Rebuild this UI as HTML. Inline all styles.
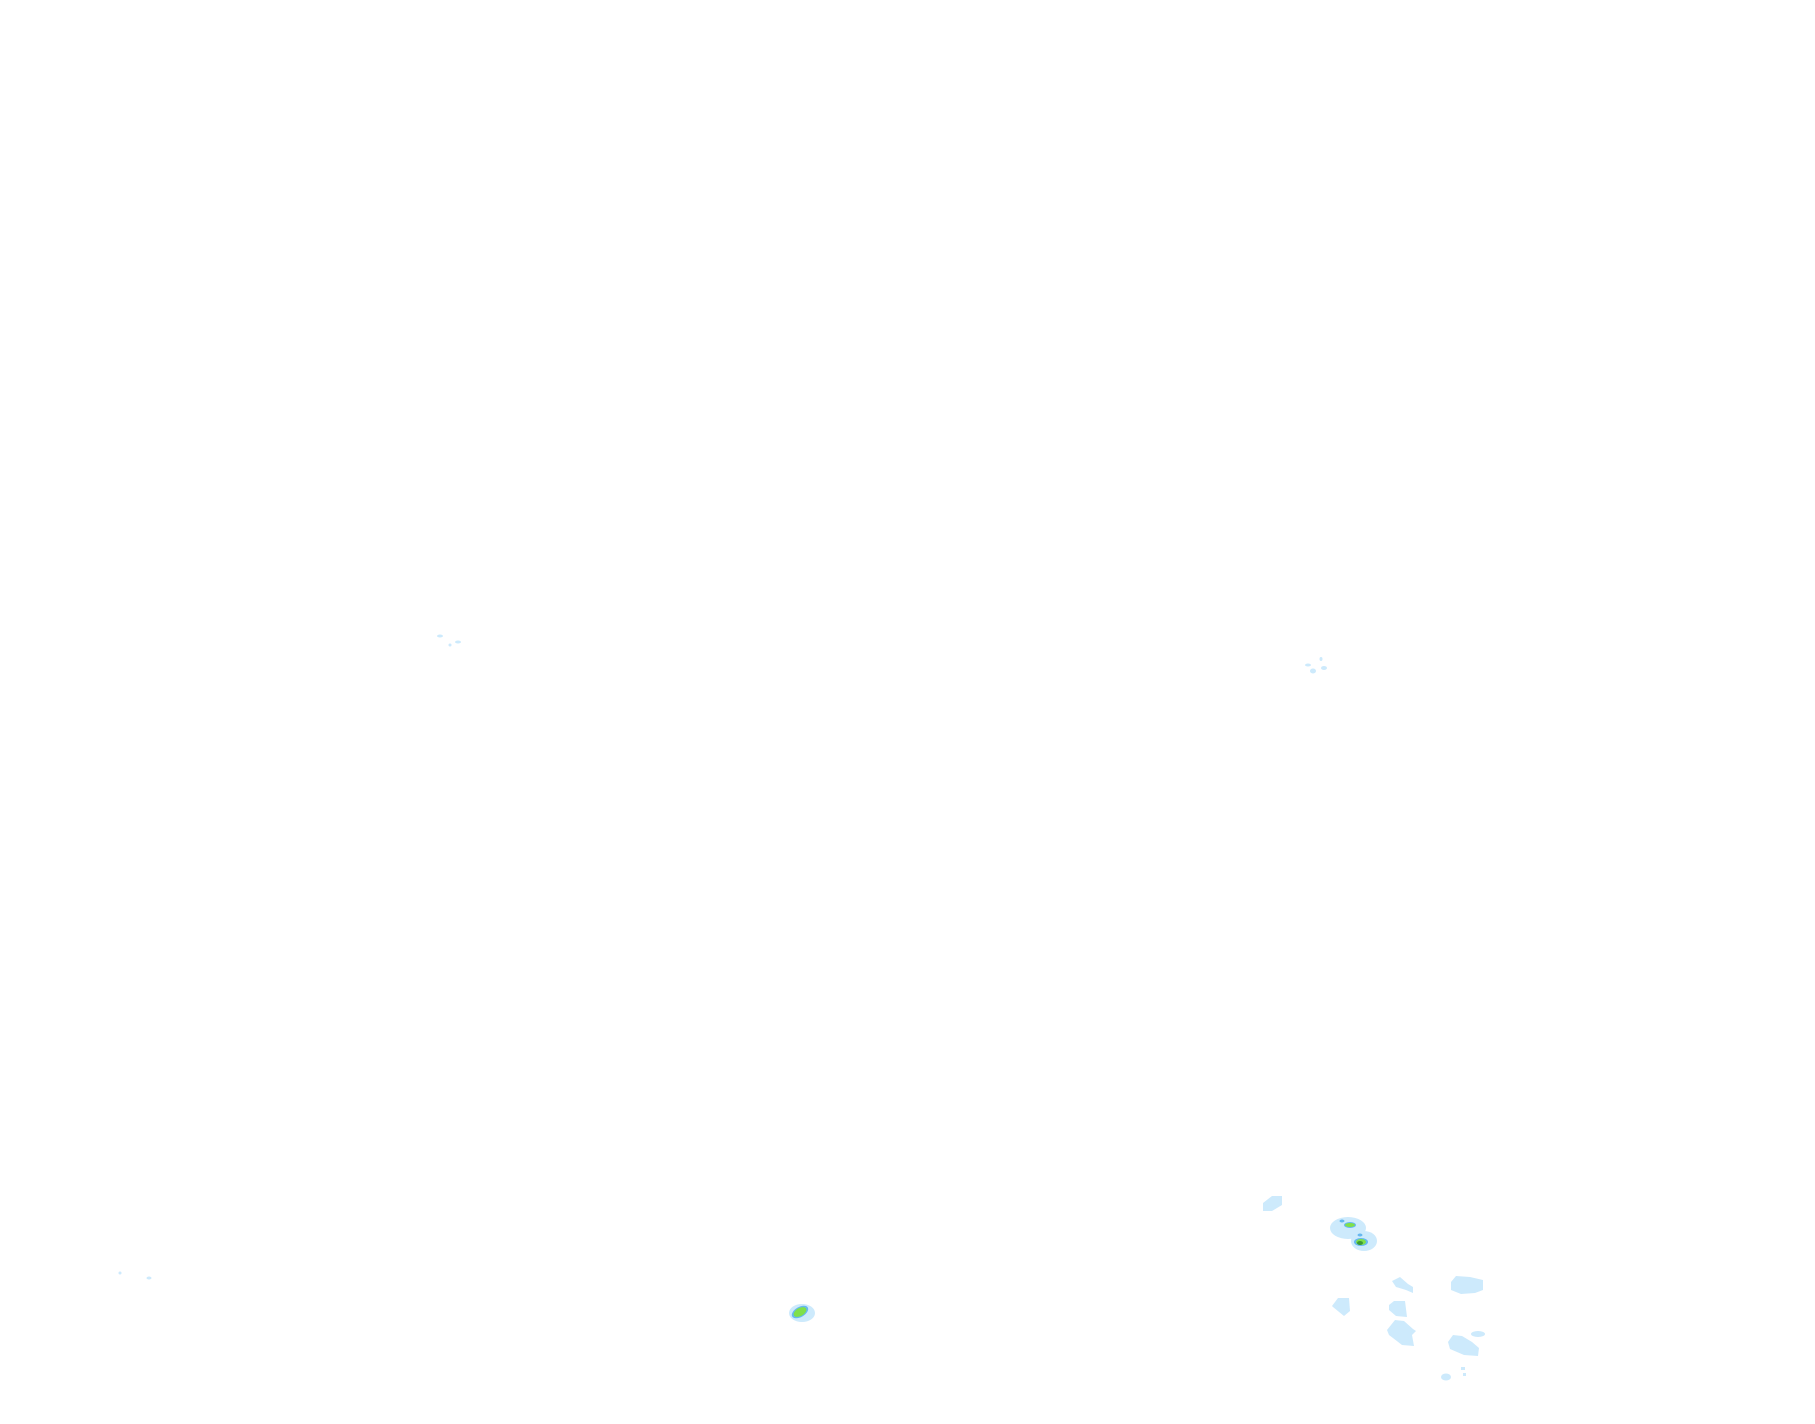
<!DOCTYPE html>
<html><head><meta charset="utf-8"><style>html,body{margin:0;padding:0;background:#fff;width:1815px;height:1424px;overflow:hidden}</style></head>
<body>
<svg width="1815" height="1424" xmlns="http://www.w3.org/2000/svg">
<g fill="#cdeafc">
<ellipse cx="440" cy="636" rx="3" ry="1.5"/>
<ellipse cx="458" cy="642" rx="3" ry="1.5"/>
<ellipse cx="450" cy="645" rx="1.5" ry="1.5"/>
<ellipse cx="1308" cy="665" rx="3" ry="1.5"/>
<ellipse cx="1321" cy="659" rx="1.5" ry="2"/>
<ellipse cx="1324" cy="668" rx="3" ry="2"/>
<ellipse cx="1313" cy="671" rx="3" ry="2.5"/>
<ellipse cx="120" cy="1273" rx="1.5" ry="1.5"/>
<ellipse cx="149" cy="1278" rx="2.5" ry="1.5"/>
<ellipse cx="802" cy="1313" rx="13" ry="9"/>
<path d="M1263 1203 L1272 1196 L1282 1196 L1282 1205 L1272 1211 L1263 1211 Z"/>
<ellipse cx="1348" cy="1228" rx="18" ry="11"/>
<ellipse cx="1364" cy="1241" rx="13" ry="10"/>
<path d="M1332 1306 L1338 1298 L1349 1298 L1350 1311 L1344 1316 L1333 1307Z"/>
<path d="M1392 1281 L1400 1277 L1408 1284 L1413 1287 L1413 1293 L1406 1290 L1396 1287Z"/>
<path d="M1389 1305 L1394 1301 L1405 1301 L1407 1317 L1396 1316 L1389 1310Z"/>
<path d="M1387 1330 L1395 1320 L1404 1321 L1413 1329 L1416 1331 L1412 1335 L1414 1346 L1402 1345 L1389 1335Z"/>
<path d="M1451 1282 L1456 1276 L1470 1277 L1483 1280 L1483 1290 L1475 1293 L1461 1294 L1451 1290Z"/>
<path d="M1448 1342 L1453 1335 L1462 1336 L1472 1342 L1479 1348 L1478 1356 L1464 1355 L1450 1349Z"/>
<ellipse cx="1478" cy="1334" rx="7" ry="3"/>
<ellipse cx="1446" cy="1377" rx="5" ry="3.5"/>
<rect x="1461" y="1367" width="4" height="3"/>
<rect x="1463" y="1373" width="3" height="3"/>
</g>
<g fill="#66b8f0">
<ellipse cx="800" cy="1312" rx="9" ry="5" transform="rotate(-30 800 1312)"/>
<ellipse cx="1350" cy="1225" rx="6" ry="3"/>
<ellipse cx="1361" cy="1242" rx="7" ry="4"/>
<ellipse cx="1342" cy="1221" rx="2.5" ry="1.5"/>
<ellipse cx="1360" cy="1235" rx="2.5" ry="1.5"/>
</g>
<g fill="#7fe04a">
<ellipse cx="800" cy="1312" rx="7" ry="4" transform="rotate(-30 800 1312)"/>
<ellipse cx="1350" cy="1225" rx="5" ry="2"/>
<ellipse cx="1361" cy="1242" rx="5" ry="3"/>
</g>
<ellipse cx="1360" cy="1243" rx="3" ry="2" fill="#3c9a34"/>
</svg>
</body></html>
